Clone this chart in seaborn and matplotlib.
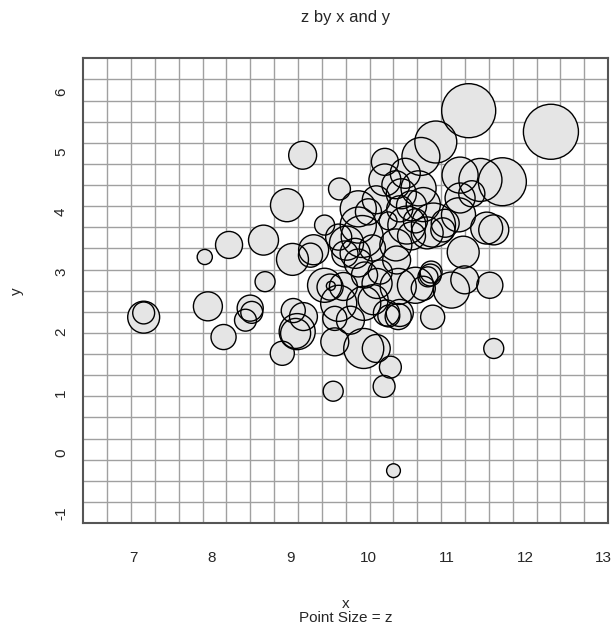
import numpy as np
import pandas as pd
import matplotlib.pyplot as plt
import seaborn as sns

# bubble centres and sizes
x = [12.33, 11.28, 11.71, 11.43, 11.17, 10.86, 10.67, 10.21, 9.16, 8.96,
     9.63, 9.44, 8.66, 8.22, 7.91, 9.03, 9.30, 9.26, 8.68, 7.13,
     7.13, 7.95, 8.15, 8.49, 8.51, 8.43, 8.90, 9.04, 9.17, 9.09,
     9.07, 9.55, 9.94, 10.10, 10.28, 10.20, 10.32, 11.60, 11.55, 11.23,
     11.06, 10.82, 11.51, 11.60, 11.21, 11.15, 11.32, 11.17, 9.44, 9.51,
     9.52, 9.57, 9.77, 9.57, 9.62, 9.94, 10.06, 10.23, 10.26, 10.38,
     10.40, 9.68, 10.11, 10.38, 10.60, 10.70, 10.79, 10.76, 10.80, 9.87,
     9.92, 9.83, 9.87, 10.36, 10.49, 10.83, 10.98, 9.72, 9.62, 9.70,
     10.47, 10.21, 10.64, 10.35, 10.42, 10.40, 10.55, 10.70, 10.10, 10.00,
     9.87, 10.25, 10.55, 10.75, 10.35, 10.05, 10.95, 10.60, 10.15, 9.95]
y = [5.33, 5.68, 4.50, 4.53, 4.61, 5.16, 4.92, 4.83, 4.94, 4.11,
     4.38, 3.78, 3.53, 3.45, 3.25, 3.21, 3.37, 3.28, 2.84, 2.25,
     2.32, 2.43, 1.92, 2.40, 2.33, 2.20, 1.65, 2.36, 2.26, 2.01,
     1.98, 1.02, 1.73, 1.73, 1.42, 1.10, -0.30, 1.73, 2.78, 2.87,
     2.70, 2.25, 3.73, 3.70, 3.33, 3.95, 4.30, 4.23, 2.78, 2.75,
     2.77, 2.23, 2.20, 1.84, 2.48, 2.48, 2.54, 2.32, 2.27, 2.26,
     2.32, 2.76, 2.81, 2.76, 2.78, 2.73, 2.95, 2.92, 3.00, 3.78,
     3.59, 3.31, 3.15, 3.20, 3.78, 3.78, 3.81, 3.48, 3.58, 3.30,
     4.64, 4.53, 4.39, 4.45, 4.30, 4.05, 4.10, 4.12, 4.20, 4.00,
     4.05, 3.85, 3.60, 3.65, 3.45, 3.40, 3.70, 3.85, 3.00, 2.95]
z = [30.3, 29.2, 23.0, 18.5, 13.0, 17.6, 14.4, 7.3, 7.8, 10.9,
     4.8, 4.0, 9.0, 7.3, 2.3, 10.2, 9.0, 5.8, 4.0, 10.2,
     4.8, 8.4, 6.3, 6.8, 4.8, 4.8, 5.8, 5.8, 7.8, 13.0,
     9.0, 4.0, 16.0, 7.8, 4.8, 4.8, 1.9, 4.0, 6.8, 7.8,
     13.0, 5.8, 10.2, 9.0, 10.2, 11.6, 6.8, 9.0, 11.6, 6.8,
     0.8, 5.8, 7.8, 7.8, 13.0, 11.6, 9.0, 6.8, 4.8, 6.8,
     7.3, 7.8, 9.0, 13.0, 13.0, 5.8, 4.8, 4.0, 4.8, 13.0,
     17.6, 9.0, 7.8, 7.8, 14.4, 19.4, 7.8, 11.6, 6.8, 6.8,
     9.0, 10.2, 12.3, 7.8, 9.0, 6.8, 9.0, 11.6, 7.8, 6.8,
     13.0, 3.2, 7.8, 10.2, 10.2, 6.8, 5.8, 5.8, 5.8, 6.8]

xticks = [7, 8, 9, 10, 11, 12, 13]
yticks = [-1, 0, 1, 2, 3, 4, 5, 6]

df = pd.DataFrame({"x": x, "y": y, "z": z})

sns.set_style("white")
plt.rcParams['font.family'] = ['Liberation Sans', 'DejaVu Sans']

fig = plt.figure(figsize=(6.13, 6.34), dpi=100)
ax = fig.add_axes([0.136, 0.175, 0.856, 0.733])

xlim = (6.36, 13.06)
ylim = (-1.17, 6.55)
zmax = max(z)
smax = 51.84 * zmax   # area in pt^2 proportional to z

# fills first, then outlines, so every circle edge shows through
sns.scatterplot(data=df, x="x", y="y", size="z", sizes=(0, smax),
                size_norm=(0, zmax), color="#e5e5e5", linewidth=0,
                legend=False, ax=ax, zorder=3)
sns.scatterplot(data=df, x="x", y="y", size="z", sizes=(0, smax),
                size_norm=(0, zmax), color="black", facecolor="none",
                edgecolor="black", linewidth=1.0, legend=False, ax=ax, zorder=4)

ax.set_xlim(xlim)
ax.set_ylim(ylim)

# 22 x 22 reference grid
ax.set_xticks(np.linspace(xlim[0], xlim[1], 23)[1:-1], minor=True)
ax.set_yticks(np.linspace(ylim[0], ylim[1], 23)[1:-1], minor=True)
ax.set_axisbelow(True)
ax.grid(which="minor", color="#a0a0a0", linewidth=1.0)
ax.grid(which="major", visible=False)

ax.set_xticks(xticks)
ax.set_xticklabels([str(t) for t in xticks])
ax.set_yticks(yticks)
ax.set_yticklabels([str(t) for t in yticks], rotation=90, va="center")
ax.tick_params(which="minor", length=0)
ax.tick_params(which="major", length=8, width=1, color="#333333",
               labelsize=11, direction="out")
ax.tick_params(axis="x", pad=12)
ax.tick_params(axis="y", pad=3)

for sp in ax.spines.values():
    sp.set_color("#555555")
    sp.set_linewidth(1.5)

ax.set_title("z by x and y", fontsize=12, pad=26)
ax.set_xlabel("x\nPoint Size = z", fontsize=11, labelpad=23, linespacing=1.0)
ax.set_ylabel("y", fontsize=11, labelpad=22)

fig.savefig("out.png", dpi=100)
